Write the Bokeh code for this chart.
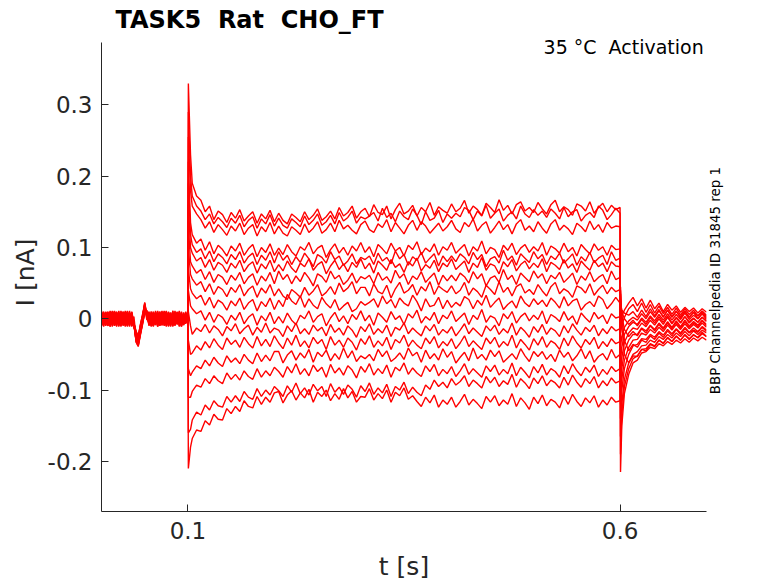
import math
import numpy as np
from bokeh.plotting import figure
from bokeh.models import Range1d, FixedTicker, Label, LinearAxis
from bokeh.embed import file_html
from bokeh.resources import INLINE

# ---------------- data (currents in pA) ----------------
X_TICKS = [0.1, 0.6]
X_TICK_LABELS = ["0.1", "0.6"]
Y_TICKS = [-0.2, -0.1, 0.0, 0.1, 0.2, 0.3]
Y_TICK_LABELS = ["-0.2", "-0.1", "0", "0.1", "0.2", "0.3"]

# sampling instants [s]
HOLD_T = np.linspace(0.0, 0.1, 41)
PULSE_T = np.concatenate([[0.1005, 0.103], np.linspace(0.105, 0.595, 99), [0.6]])
TAIL_T = np.concatenate([[0.6005, 0.602, 0.605], np.linspace(0.61, 0.70, 19)])

# holding segment, one row per sweep (pA)
HOLD_PA = [
    [6, -5, 9, -8, 3, 11, -4, -10, 7, -2, 10, -7, 4, -9, 8, -12, -20, -30, -12, 2, 18, 6, -8, 10, -3, -9, 7, -5, 11, -6, 2, -10, 8, -4, 9, -7, 5, -11, 6, -3, 0],
    [-7, 9, -3, 6, -11, 4, 10, -6, -1, 8, -9, 5, -4, 11, -8, 3, -26, -34, -18, -3, 14, 9, -6, 3, -10, 8, -1, 6, -9, 10, -5, 4, -11, 7, -2, 9, -8, 3, -6, 8, -2],
    [2, -10, 5, 8, -6, -2, 9, -11, 4, 6, -5, -9, 10, -3, 7, -6, -17, -26, -9, 6, 21, 4, -4, -9, 6, 2, -11, 9, -3, -7, 10, -1, -6, 11, -9, 3, 7, -10, 4, -5, 3],
    [-4, 7, -9, 2, 10, -8, -3, 6, -10, 11, -2, 8, -6, -1, 9, -9, -30, -37, -20, -5, 10, 11, -9, 5, -2, -8, 10, -4, 6, -10, 3, 8, -7, -2, 10, -8, -1, 7, -9, 5, -2],
    [9, -2, -8, 5, 1, -11, 8, 3, -7, -4, 10, -10, 2, 7, -5, -11, -22, -28, -14, 0, 16, 3, 10, -7, -1, 9, -10, 1, 8, -3, -9, 6, 2, -8, 11, -5, -2, 9, -7, 1, 4],
    [-9, 4, 6, -7, 8, -1, -10, 9, 2, -6, 5, -3, -11, 6, 1, -4, -28, -33, -15, -2, 12, 10, -2, -10, 7, 4, -6, 10, -9, -1, 5, -7, 9, -11, 3, 6, -4, 10, -8, -1, -5],
    [5, 10, -6, -1, -9, 7, 4, -8, 11, -3, -7, 9, -1, -10, 4, -8, -18, -24, -10, 4, 19, 0, 7, -4, -11, 3, 9, -8, -2, 6, -10, 10, -3, -9, 2, 8, -11, 4, -1, -7, 1],
    [-2, -11, 8, 3, -5, 10, -9, 1, 6, -10, 2, 11, -8, 4, -6, -3, -32, -38, -22, -6, 8, 12, -5, 8, -9, -2, 11, -6, 4, -3, -9, 7, -5, 3, -10, 1, 9, -6, -3, 10, -1],
    [11, -6, 2, -9, 7, -4, 5, 10, -11, 3, -8, 6, 9, -5, -2, -10, -24, -31, -16, 1, 22, 5, -10, 4, 8, -7, -3, 10, -6, 2, 9, -11, 5, -1, -8, 7, 3, -9, 8, -4, 2],
    [-6, 3, -10, 9, -3, 6, -7, -1, 10, -8, 4, -4, 7, -11, 10, -5, -27, -35, -19, -4, 15, 7, 3, -9, 5, -5, 8, -10, 1, 11, -4, -6, 8, -9, 4, -2, 6, -10, 3, 7, -3],
    [3, 8, -4, -10, 11, -6, 1, 7, -9, -3, 9, -11, 5, 2, -7, -9, -20, -27, -11, 3, 17, -2, 9, -6, -1, 7, -11, 4, 10, -8, -3, 5, -10, 8, 1, -7, 11, -5, -2, 6, 4],
    [-10, 5, 9, -3, -8, 2, 11, -7, 4, -11, 6, -2, -9, 8, 3, -6, -31, -36, -21, -7, 11, 8, -7, 10, -4, 2, -9, 7, -6, 3, 11, -10, -1, 5, -8, 10, -3, -7, 9, -5, -4],
    [7, -8, 4, 10, -2, -9, 6, -5, -1, 9, -10, 3, 11, -7, 5, -7, -19, -25, -8, 5, 20, 2, -3, 6, -8, 9, -2, -10, 5, 7, -6, 2, -9, 11, -4, -1, 8, -11, 6, -2, 2],
    [-3, -9, 10, -6, 4, 8, -10, 2, -4, 7, -1, -8, 6, -3, 9, -10, -29, -34, -17, -3, 13, 9, 5, -11, 2, 8, -5, -3, 9, -9, 6, -4, 1, -10, 9, 5, -7, 2, -9, 8, -1],
    [8, 1, -7, 5, -11, 3, -6, 9, -8, 10, -5, 4, -10, 1, -4, -8, -23, -30, -13, 0, 23, 4, -6, 2, 10, -7, 4, -1, -9, 8, -11, 9, 3, -5, 7, -8, 10, -3, -6, 5, 3],
    [-8, 6, -1, -10, 7, -5, 10, -3, 5, -9, 8, -6, 3, 9, -11, -4, -33, -39, -23, -8, 9, 6, -8, 7, -5, 11, -2, -9, 6, -5, 10, -7, -3, 4, -6, 9, -10, 1, -3, 7, -2],
]

# test pulse, one row per sweep (pA): onset spike, 0.103 s, 0.105..0.595 s every 5 ms, 0.6 s
PULSE_PA = [
    [330, 230,
     190, 172, 166, 150, 158, 139, 151, 146, 135, 149, 141, 153, 137, 144, 150, 134, 147, 140, 152, 136,
     148, 138, 133, 147, 142, 136, 150, 139, 145, 154, 138, 143, 151, 140, 156, 144, 149, 158, 141, 150,
     155, 143, 160, 149, 146, 158, 140, 153, 162, 147, 151, 159, 144, 156, 150, 163, 145, 157, 152, 148,
     161, 150, 155, 166, 148, 158, 153, 145, 162, 156, 149, 167, 152, 159, 147, 160, 164, 151, 156, 149,
     163, 154, 147, 160, 166, 150, 157, 153, 145, 161, 158, 151, 164, 148, 156, 162, 150, 159, 153,
     156],
    [290, 200,
     172, 158, 151, 139, 147, 133, 142, 136, 128, 141, 134, 145, 129, 138, 143, 127, 140, 133, 146, 130,
     141, 131, 127, 140, 135, 129, 144, 132, 138, 147, 131, 136, 145, 133, 149, 137, 142, 151, 134, 143,
     140, 144, 149, 137, 155, 142, 148, 136, 151, 143, 139, 154, 145, 132, 150, 138, 141, 152, 135, 147,
     141, 148, 143, 156, 152, 139, 151, 144, 159, 141, 148, 154, 137, 145, 150, 140, 158, 147, 142, 153,
     145, 151, 142, 154, 148, 140, 156, 143, 150, 153, 137, 145, 149, 142, 158, 152, 139, 146, 155,
     148],
    [255, 180,
     158, 147, 139, 127, 136, 121, 132, 125, 117, 130, 123, 134, 118, 127, 132, 116, 129, 122, 135, 119,
     130, 120, 116, 129, 124, 118, 133, 121, 127, 136, 120, 125, 134, 122, 138, 126, 131, 124, 119, 132,
     137, 125, 121, 133, 128, 139, 122, 135, 127, 119, 131, 138, 124, 136, 130, 120, 127, 134, 123, 129,
     138, 126, 121, 135, 129, 140, 123, 131, 136, 120, 128, 137, 125, 132, 119, 133, 139, 124, 130, 122,
     136, 127, 120, 133, 139, 124, 131, 126, 118, 134, 129, 122, 137, 125, 132, 121, 135, 127, 130,
     129],
    [220, 135,
     118, 106, 112, 96, 108, 91, 103, 97, 88, 102, 95, 106, 89, 98, 104, 87, 100, 93, 105, 89,
     99, 90, 104, 94, 88, 101, 96, 107, 91, 99, 103, 86, 97, 105, 92, 100, 89, 102, 95, 107,
     93, 101, 87, 104, 98, 91, 106, 95, 100, 88, 103, 97, 108, 90, 99, 94, 105, 89, 101, 96,
     107, 92, 98, 104, 88, 101, 95, 109, 91, 100, 97, 86, 103, 96, 106, 90, 99, 104, 93, 101,
     95, 107, 89, 102, 98, 92, 106, 94, 100, 88, 104, 97, 91, 105, 96, 101, 89, 103, 97,
     98],
    [190, 118,
     104, 93, 98, 84, 95, 80, 91, 86, 77, 90, 83, 94, 78, 87, 92, 76, 89, 82, 94, 78,
     94, 82, 89, 76, 87, 79, 92, 84, 73, 90, 86, 78, 94, 83, 88, 75, 81, 91, 77, 86,
     83, 88, 76, 92, 81, 86, 77, 95, 84, 90, 75, 87, 82, 93, 78, 85, 91, 74, 88, 80,
     88, 80, 91, 86, 77, 93, 83, 90, 73, 84, 87, 78, 96, 82, 88, 75, 91, 85, 79, 94,
     84, 90, 76, 88, 83, 92, 78, 84, 91, 75, 87, 81, 93, 79, 85, 89, 76, 94, 82,
     85],
    [160, 100,
     92, 81, 86, 72, 83, 68, 79, 75, 65, 78, 71, 82, 66, 75, 80, 64, 77, 70, 82, 66,
     76, 67, 81, 71, 65, 78, 73, 84, 68, 76, 80, 63, 74, 82, 69, 77, 66, 79, 72, 84,
     70, 78, 64, 81, 75, 68, 83, 72, 77, 65, 80, 74, 85, 67, 76, 71, 82, 66, 78, 73,
     84, 69, 75, 81, 65, 78, 72, 86, 68, 77, 74, 63, 80, 73, 83, 67, 76, 81, 70, 78,
     72, 84, 66, 79, 75, 69, 83, 71, 77, 65, 81, 74, 68, 82, 73, 78, 66, 80, 74,
     73],
    [130, 80,
     74, 64, 69, 55, 66, 51, 62, 58, 48, 61, 54, 65, 49, 58, 63, 47, 60, 53, 65, 49,
     67, 55, 62, 49, 60, 52, 65, 57, 46, 63, 59, 51, 67, 56, 61, 48, 54, 64, 50, 59,
     56, 61, 49, 65, 54, 59, 50, 68, 57, 63, 48, 60, 55, 66, 51, 58, 64, 47, 61, 53,
     61, 53, 64, 59, 50, 66, 56, 63, 46, 57, 60, 51, 69, 55, 61, 48, 64, 58, 52, 67,
     57, 63, 49, 61, 56, 65, 51, 57, 64, 48, 60, 54, 66, 52, 58, 62, 49, 67, 55,
     58],
    [100, 62,
     56, 47, 52, 38, 49, 34, 45, 41, 31, 44, 37, 48, 32, 41, 46, 30, 43, 36, 48, 32,
     42, 32, 27, 41, 36, 30, 44, 33, 39, 48, 32, 37, 45, 34, 50, 38, 43, 52, 35, 44,
     44, 32, 49, 38, 35, 47, 29, 42, 51, 36, 40, 48, 33, 45, 39, 52, 34, 46, 41, 37,
     46, 35, 40, 51, 33, 43, 38, 30, 47, 41, 34, 52, 37, 44, 32, 45, 49, 36, 41, 34,
     48, 39, 32, 45, 51, 35, 42, 38, 30, 46, 43, 36, 49, 33, 41, 47, 35, 44, 38,
     41],
    [70, 42,
     36, 28, 33, 19, 30, 15, 26, 22, 12, 25, 18, 29, 13, 22, 27, 11, 24, 17, 29, 13,
     26, 17, 34, 25, 20, 32, 16, 28, 19, 14, 30, 21, 15, 27, 12, 18, 23, 10, 14, 24,
     19, 23, 28, 16, 32, 21, 27, 15, 29, 22, 18, 33, 24, 11, 28, 17, 19, 30, 14, 26,
     16, 23, 18, 31, 27, 14, 26, 19, 33, 16, 23, 29, 13, 20, 25, 15, 32, 22, 17, 28,
     20, 26, 17, 29, 23, 15, 31, 18, 25, 28, 12, 20, 24, 17, 32, 27, 14, 21, 30,
     22],
    [40, 18,
     14, 7, 11, -2, 9, -5, 6, 2, -8, 5, -2, 9, -7, 2, 7, -9, 4, -3, 9, -7,
     3, -6, 8, -2, -8, 5, 0, 11, -5, 3, 7, -10, 1, 9, -4, 4, -7, 6, -1, 11,
     -3, 5, -9, 8, 2, -5, 10, -1, 4, -8, 7, 1, 12, -6, 3, -2, 9, -7, 5, 0,
     11, -4, 2, 8, -8, 5, -1, 13, -5, 4, 1, -10, 7, 0, 10, -6, 3, 8, -3, 5,
     -1, 11, -7, 6, 2, -4, 10, -2, 4, -8, 8, 1, -5, 9, 0, 5, -7, 7, 1,
     3],
    [10, -10,
     -22, -13, -18, -8, -20, -10, -15, -24, -11, -17, -7, -21, -14, -9, -23, -12, -19, -6, -20, -13,
     -16, -25, -10, -18, -6, -21, -14, -22, -9, -17, -12, -24, -8, -19, -13, -23, -10, -16, -26, -11,
     -18, -7, -22, -14, -20, -9, -25, -12, -16, -6, -21, -13, -19, -24, -10, -17, -8, -23, -15, -20,
     -11, -24, -16, -7, -21, -13, -19, -25, -10, -17, -9, -22, -14, -20, -6, -23, -12, -18, -26, -11,
     -19, -8, -22, -13, -17, -25, -10, -20, -7, -16, -23, -12, -18, -9, -24, -14, -21, -11, -17,
     -14],
    [-30, -50,
     -48, -38, -44, -32, -41, -28, -37, -43, -27, -36, -30, -40, -26, -35, -41, -25, -38, -29, -39, -24,
     -34, -42, -27, -37, -23, -39, -31, -41, -26, -35, -29, -43, -25, -37, -30, -40, -27, -33, -44, -28,
     -36, -24, -40, -31, -38, -26, -43, -29, -34, -23, -39, -30, -37, -42, -27, -35, -25, -41, -32, -38,
     -28, -42, -34, -24, -39, -31, -37, -43, -27, -35, -26, -40, -32, -38, -23, -41, -29, -36, -44, -28,
     -37, -25, -40, -31, -35, -43, -27, -38, -24, -34, -41, -29, -36, -26, -42, -32, -39, -28, -35,
     -32],
    [-70, -80,
     -75, -66, -70, -58, -66, -54, -62, -67, -52, -61, -55, -63, -50, -58, -63, -48, -60, -51, -59, -46,
     -46, -62, -51, -45, -58, -48, -55, -43, -61, -47, -53, -44, -59, -49, -57, -41, -55, -45, -60, -52,
     -56, -50, -59, -43, -53, -45, -60, -55, -48, -57, -41, -52, -47, -61, -44, -56, -49, -58, -42, -54,
     -46, -62, -54, -47, -59, -41, -56, -50, -58, -44, -53, -45, -61, -55, -49, -57, -42, -52, -60, -46,
     -53, -46, -57, -50, -60, -44, -54, -47, -59, -52, -42, -56, -45, -61, -53, -49, -58, -43, -55,
     -50],
    [-110, -110,
     -102, -93, -96, -84, -91, -80, -87, -91, -76, -85, -78, -86, -73, -81, -85, -70, -82, -73, -80, -68,
     -74, -82, -67, -76, -63, -78, -70, -80, -65, -74, -68, -82, -64, -76, -69, -79, -66, -72, -83, -67,
     -75, -63, -79, -70, -77, -65, -82, -68, -73, -62, -78, -69, -76, -81, -66, -74, -64, -80, -71, -77,
     -67, -81, -73, -63, -78, -70, -76, -82, -66, -74, -65, -79, -71, -77, -62, -80, -68, -75, -83, -67,
     -76, -64, -79, -70, -74, -82, -66, -77, -63, -73, -80, -68, -75, -65, -81, -71, -78, -67, -74,
     -70],
    [-160, -155,
     -142, -131, -135, -121, -128, -115, -122, -124, -109, -117, -108, -116, -102, -110, -113, -98, -109, -100, -107, -95,
     -101, -109, -94, -103, -90, -105, -97, -107, -92, -101, -95, -109, -91, -103, -96, -106, -93, -99, -110, -94,
     -102, -90, -106, -97, -104, -92, -109, -95, -100, -89, -105, -96, -103, -108, -93, -99, -86, -95, -89, -97,
     -84, -93, -88, -80, -95, -86, -91, -97, -81, -90, -82, -95, -87, -92, -78, -96, -84, -90, -98, -83,
     -91, -80, -94, -86, -90, -97, -82, -93, -79, -89, -96, -84, -91, -81, -97, -87, -94, -83, -90,
     -87],
    [-210, -180,
     -168, -156, -158, -143, -149, -134, -141, -142, -126, -133, -123, -130, -115, -123, -125, -109, -120, -110, -117, -104,
     -102, -118, -107, -101, -114, -104, -111, -99, -117, -103, -109, -100, -115, -105, -113, -98, -111, -102, -117, -109,
     -110, -98, -114, -105, -112, -100, -117, -103, -108, -97, -113, -108, -116, -123, -110, -118, -107, -124, -114, -120,
     -110, -124, -116, -106, -121, -113, -119, -126, -109, -117, -108, -122, -114, -120, -105, -123, -111, -118, -127, -110,
     -119, -107, -122, -113, -117, -125, -109, -120, -106, -116, -123, -111, -118, -108, -124, -114, -121, -110, -117,
     -115],
]

# after the pulse, one row per sweep (pA): offset spike, 0.602, 0.605, 0.61..0.70 s every 5 ms
TAIL_PA = [
    [-215, -150, -105, -78, -62, -58, -48, -46, -40, -42, -35, -38, -32, -36, -30, -34, -28, -33, -27, -31, -26, -30],
    [-190, -135, -95, -70, -56, -52, -43, -42, -35, -38, -30, -34, -27, -32, -25, -30, -23, -29, -22, -27, -21, -25],
    [-165, -120, -85, -62, -50, -46, -38, -37, -30, -33, -25, -29, -22, -27, -20, -25, -18, -24, -17, -22, -16, -20],
    [-140, -100, -70, -50, -38, -36, -28, -29, -22, -26, -18, -23, -15, -21, -14, -20, -12, -19, -13, -18, -11, -16],
    [-120, -85, -58, -40, -30, -29, -20, -23, -15, -20, -12, -18, -9, -16, -8, -15, -7, -14, -8, -13, -6, -12],
    [-100, -70, -45, -30, -22, -22, -13, -17, -9, -15, -6, -13, -4, -12, -3, -11, -2, -10, -4, -9, -2, -8],
    [-80, -55, -33, -20, -13, -15, -6, -11, -2, -9, 0, -8, 2, -7, 1, -6, 3, -6, 0, -5, 2, -4],
    [-60, -40, -22, -11, -5, -8, 1, -5, 4, -3, 6, -2, 7, -2, 6, -1, 8, -1, 5, 0, 7, -1],
    [-40, -25, -12, -3, 2, -2, 7, 0, 10, 2, 11, 3, 12, 2, 10, 3, 11, 2, 9, 4, 10, 3],
    [-20, -10, 2, 14, 20, 10, 22, 9, 20, 8, 18, 7, 16, 6, 15, 5, 14, 6, 12, 4, 11, 5],
    [0, 4, 12, 22, 30, 18, 28, 15, 26, 14, 22, 10, 20, 12, 18, 9, 16, 10, 15, 8, 14, 9],
    [15, 12, 8, 5, 10, 2, 12, 3, 14, 4, 13, 2, 12, 3, 11, 1, 10, 2, 9, 0, 8, 1],
    [25, 10, 0, -8, -2, -10, -1, -8, 2, -6, 3, -5, 4, -6, 2, -5, 3, -4, 1, -5, 2, -3],
    [35, 5, -15, -25, -18, -24, -14, -20, -10, -17, -8, -15, -6, -14, -5, -13, -4, -12, -6, -11, -3, -10],
    [45, 0, -30, -45, -36, -40, -30, -33, -24, -29, -20, -26, -17, -24, -15, -22, -14, -20, -16, -19, -12, -18],
    [40, -10, -50, -62, -52, -53, -43, -45, -36, -39, -30, -35, -26, -32, -24, -30, -22, -28, -23, -26, -19, -25],
]

NB = "\u00a0"
TITLE = "TASK5 " + NB + "Rat " + NB + "CHO_FT"
CONDITION = "35 \u00b0C " + NB + "Activation"
SOURCE = "BBP Channelpedia ID 31845 rep 1"
SOURCE_Y = -0.1058         # where the side note starts (its lower end), in nA

# ---------------- build sweeps ----------------
xs, ys = [], []
for h, pu, ta in zip(HOLD_PA, PULSE_PA, TAIL_PA):
    xs.append(np.concatenate([HOLD_T, PULSE_T, TAIL_T]))
    ys.append(np.concatenate([h, pu, ta]) / 1000.0)   # pA -> nA

FONT = "DejaVu Sans"
AX = "#262626"
X_MIN, X_MAX = 0.0, 0.7
Y_MIN, Y_MAX = -0.2703, 0.3868

p = figure(width=778, height=583, output_backend="svg", toolbar_location=None,
           x_range=Range1d(X_MIN, X_MAX), y_range=Range1d(Y_MIN, 0.4000),
           min_border_left=101, min_border_right=72, min_border_top=33, min_border_bottom=71,
           background_fill_color="white", border_fill_color="white")
p.outline_line_color = None
p.grid.visible = False

p.multi_line(xs, ys, line_color="#ff0000", line_width=1.4)

p.title.text = TITLE
p.title.text_font = FONT
p.title.text_font_size = "24px"
p.title.text_font_style = "bold"
p.title.text_color = "black"
p.title.align = "left"
p.title.offset = 14
p.title.standoff = 0

xax = p.xaxis[0]
yax = p.yaxis[0]
for ax in (xax, yax):
    ax.axis_line_color = AX
    ax.major_tick_line_color = AX
    ax.major_tick_in = 7
    ax.major_tick_out = 0
    ax.minor_tick_line_color = None
    ax.major_label_text_font = FONT
    ax.major_label_text_font_size = "23px"
    ax.major_label_text_color = AX
    ax.axis_label_text_font = FONT
    ax.axis_label_text_font_size = "25px"
    ax.axis_label_text_font_style = "normal"
    ax.axis_label_text_color = AX

xax.bounds = (X_MIN, X_MAX)
xax.ticker = FixedTicker(ticks=X_TICKS)
xax.major_label_overrides = dict(zip(X_TICKS, X_TICK_LABELS))
xax.axis_label = "t [s]"
xax.major_label_standoff = 10
xax.axis_label_standoff = 10

yax.bounds = (Y_MIN, Y_MAX)
yax.ticker = FixedTicker(ticks=Y_TICKS)
yax.major_label_overrides = dict(zip(Y_TICKS, Y_TICK_LABELS))
yax.axis_label = "I [nA]"
yax.major_label_standoff = 9
yax.axis_label_standoff = 5

# side note, read bottom-to-top, right of the plot
side = LinearAxis(ticker=FixedTicker(ticks=[SOURCE_Y]),
                  major_label_overrides={SOURCE_Y: SOURCE},
                  major_label_orientation=math.pi / 2,
                  axis_line_color=None, major_tick_line_color=None, minor_tick_line_color=None,
                  major_tick_in=0, major_tick_out=0, major_label_standoff=9,
                  major_label_text_font=FONT, major_label_text_font_size="13.4px",
                  major_label_text_color="black")
p.add_layout(side, "right")

p.add_layout(Label(x=0.6968, y=0.3808, text=CONDITION, text_font=FONT, text_font_size="19px",
                   text_color="black", text_align="right", text_baseline="alphabetic"))

open("out.html", "w").write(file_html(p, INLINE))
